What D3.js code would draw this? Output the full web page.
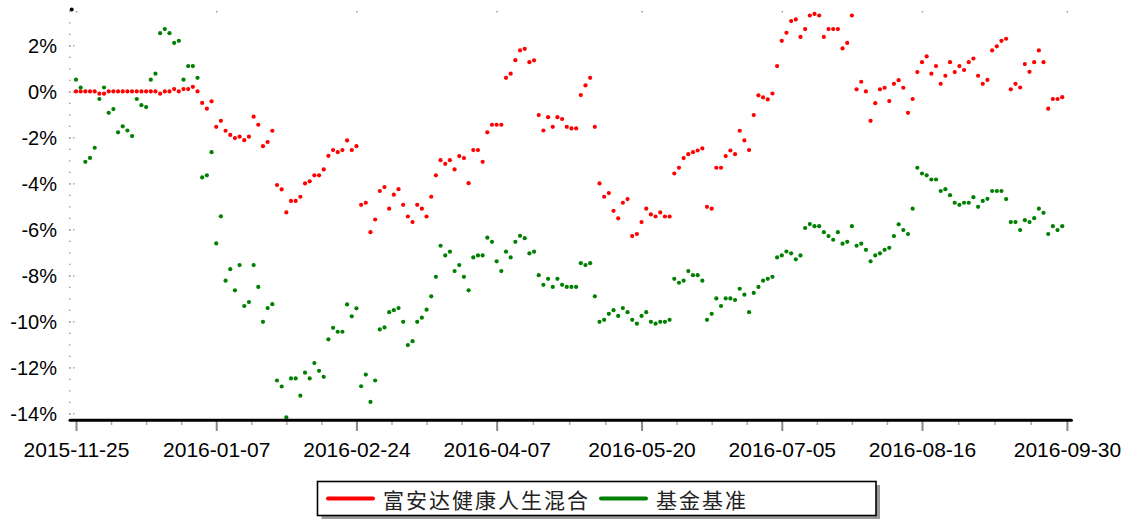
<!DOCTYPE html>
<html>
<head>
<meta charset="utf-8">
<script src="https://cdn.jsdelivr.net/npm/d3@7"></script>
<style>
  body { margin: 0; background: #fff; }
  svg { display: block; }
</style>
</head>
<body>
<script>
// series names
var seriesNames = ["富安达健康人生混合", "基金基准"];

// x tick labels and the point index each one sits on
var tickLabels = ["2015-11-25", "2016-01-07", "2016-02-24", "2016-04-07", "2016-05-20", "2016-07-05", "2016-08-16", "2016-09-30"];
var tickIndex = [0, 30, 60, 90, 121, 151, 181, 212];

// y tick values (%)
var yTicks = [-14, -12, -10, -8, -6, -4, -2, 0, 2];

// fund return, %, one value per trading day
var fund = [
  0, 0, 0, 0, 0, -0.1, -0.1, 0, 0, 0,
  0, 0, 0, 0, 0, 0, 0, 0, -0.1, 0,
  0, 0.1, 0, 0.1, 0.1, 0.2, 0, -0.5, -0.75, -0.43,
  -1.54, -1.28, -1.71, -1.89, -2.03, -1.97, -2.12, -1.97, -1.10, -1.45,
  -2.38, -2.20, -1.71, -4.07, -4.26, -5.26, -4.76, -4.76, -4.58, -4.0,
  -3.91, -3.65, -3.65, -3.39, -2.80, -2.55, -2.64, -2.55, -2.13, -2.55,
  -2.38, -4.93, -4.84, -6.12, -5.57, -4.33, -4.16, -5.10, -4.49, -4.25,
  -4.93, -5.44, -5.68, -4.93, -5.10, -5.44, -4.58, -3.65, -2.99, -3.15,
  -2.99, -3.39, -2.81, -2.90, -3.99, -2.55, -2.55, -3.06, -1.78, -1.45,
  -1.45, -1.45, 0.59, 0.77, 1.36, 1.78, 1.85, 1.27, 1.35, -1.03,
  -1.70, -1.12, -1.54, -1.12, -1.20, -1.54, -1.61, -1.61, -0.16, 0.26,
  0.59, -1.54, -4.0, -4.58, -4.42, -5.19, -5.52, -4.84, -4.68, -6.29,
  -6.20, -5.68, -5.10, -5.35, -5.44, -5.26, -5.44, -5.44, -3.57, -3.32,
  -2.90, -2.73, -2.64, -2.57, -2.48, -5.02, -5.10, -3.32, -3.32, -2.81,
  -2.57, -2.73, -1.71, -2.13, -2.55, -1.03, -0.17, -0.26, -0.35, -0.09,
  1.10, 2.20, 2.55, 3.06, 3.13, 2.37, 2.71, 3.30, 3.37, 3.30,
  2.37, 2.71, 2.71, 2.71, 1.87, 2.11, 3.30, 0.09, 0.42, 0,
  -1.28, -0.51, 0.09, 0.16, -0.42, 0.33, 0.49, 0.16, -0.93, -0.33,
  0.84, 1.27, 1.52, 0.77, 1.10, 0.33, 0.68, 1.27, 0.84, 1.10,
  0.93, 1.27, 1.43, 0.68, 0.33, 0.50, 1.78, 1.96, 2.20, 2.29,
  0.09, 0.33, 0.17, 1.19, 0.85, 1.27, 1.78, 1.27, -0.75, -0.33,
  -0.33, -0.25
];

// benchmark return, %
var bench = [
  0.51, 0.17, -3.06, -2.89, -2.45, -0.33, 0.17, -0.93, -0.77, -1.78,
  -1.52, -1.70, -1.94, -0.33, -0.60, -0.68, 0.51, 0.77, 2.53, 2.71,
  2.53, 2.11, 2.20, 0.51, 1.10, 1.10, 0.59, -3.74, -3.65, -2.64,
  -6.61, -5.43, -8.23, -7.73, -8.65, -7.55, -9.33, -9.16, -7.55, -8.50,
  -10.02, -9.42, -9.25, -12.57, -12.83, -14.17, -12.48, -12.48, -13.23, -12.23,
  -12.48, -11.81, -12.15, -12.41, -10.78, -10.28, -10.45, -10.45, -9.26, -9.78,
  -9.43, -12.82, -12.31, -13.50, -12.57, -10.35, -10.26, -9.60, -9.51, -9.42,
  -10.02, -11.03, -10.86, -10.02, -9.84, -9.49, -8.91, -8.06, -6.71, -7.13,
  -6.97, -7.81, -7.55, -8.06, -8.65, -7.22, -7.13, -7.13, -6.36, -6.54,
  -7.39, -7.81, -6.97, -7.22, -6.54, -6.28, -6.38, -7.04, -6.97, -7.99,
  -8.41, -8.15, -8.50, -8.15, -8.41, -8.50, -8.50, -8.50, -7.47, -7.55,
  -7.47, -8.91, -10.02, -9.93, -9.67, -9.51, -9.76, -9.42, -9.60, -9.93,
  -10.10, -9.76, -9.60, -10.02, -10.10, -10.02, -10.02, -9.93, -8.15, -8.32,
  -8.23, -7.81, -7.99, -7.99, -8.23, -9.93, -9.67, -9.00, -9.33, -9.00,
  -9.00, -9.07, -8.58, -8.84, -9.60, -8.76, -8.50, -8.23, -8.15, -8.06,
  -7.22, -7.13, -6.96, -7.04, -7.30, -7.13, -5.94, -5.77, -5.86, -5.86,
  -6.12, -6.29, -6.45, -6.12, -6.62, -6.54, -5.86, -6.71, -6.62, -6.89,
  -7.39, -7.13, -7.04, -6.89, -6.80, -6.29, -5.78, -6.03, -6.20, -5.10,
  -3.32, -3.57, -3.65, -3.83, -3.83, -4.33, -4.25, -4.51, -4.84, -4.93,
  -4.84, -4.84, -4.60, -5.02, -4.76, -4.67, -4.33, -4.33, -4.33, -4.68,
  -5.68, -5.68, -6.03, -5.60, -5.68, -5.51, -5.10, -5.28, -6.20, -5.86,
  -6.03, -5.86
];

var colors = ["#ff0000", "#008000"];

var width = 1127, height = 519;
var svg = d3.select("body").append("svg")
  .attr("width", width).attr("height", height)
  .style("background", "#fff");

var x = d3.scaleLinear().domain([0, 212]).range([76, 1066.9]);
var y = d3.scaleLinear().domain([-14.3, 3.57]).range([420.3, 9.3]);

// minor y ticks (dots)
var yMinor = d3.range(-14, 3.51, 0.5);
svg.append("g")
  .attr("transform", "translate(69,0)")
  .call(d3.axisRight(y).tickValues(yMinor).tickSize(1.5).tickFormat(""))
  .call(function(g){
    g.select(".domain").remove();
    g.selectAll("line").attr("stroke", "#999").attr("stroke-width", 1.3);
  });

// major y ticks (dotted) and labels
svg.append("g")
  .attr("transform", "translate(69,0)")
  .call(d3.axisRight(y).tickValues(yTicks).tickSize(6).tickFormat(""))
  .call(function(g){
    g.select(".domain").remove();
    g.selectAll("line").attr("stroke", "#999").attr("stroke-width", 1.3)
      .attr("stroke-dasharray", "1.5,2.5");
  });

svg.append("g")
  .attr("transform", "translate(57,0)")
  .call(d3.axisLeft(y).tickValues(yTicks).tickSize(0).tickPadding(0)
    .tickFormat(function(d){ return d + "%"; }))
  .call(function(g){
    g.select(".domain").remove();
    g.selectAll("text")
      .attr("x", 0).attr("dy", "0.36em")
      .attr("fill", "#000")
      .style("font-family", "'Liberation Sans', Arial, sans-serif")
      .style("font-size", "20px");
  });

// top small marks
svg.append("g")
  .attr("transform", "translate(0,12.5)")
  .call(d3.axisTop(x).tickValues(tickIndex).tickSize(1.5).tickFormat(""))
  .call(function(g){
    g.select(".domain").remove();
    g.selectAll("line").attr("stroke", "#999").attr("stroke-width", 1.5);
  });

svg.append("circle").attr("cx", 71.7).attr("cy", 9.5).attr("r", 2).attr("fill", "#000");

// points
svg.append("g").selectAll("circle")
  .data(fund)
  .enter().append("circle")
  .attr("cx", function(d, i){ return x(i); })
  .attr("cy", function(d){ return y(d); })
  .attr("r", 2.1)
  .attr("fill", colors[0]);

svg.append("g").selectAll("circle")
  .data(bench)
  .enter().append("circle")
  .attr("cx", function(d, i){ return x(i); })
  .attr("cy", function(d){ return y(d); })
  .attr("r", 2.1)
  .attr("fill", colors[1]);

// x axis: minor ticks
var xMinor = [];
for (var k = 0; k < tickIndex.length - 1; k++) {
  for (var q = 1; q < 4; q++) {
    xMinor.push(tickIndex[k] + (tickIndex[k + 1] - tickIndex[k]) * q / 4);
  }
}
svg.append("g")
  .attr("transform", "translate(0,421)")
  .call(d3.axisBottom(x).tickValues(xMinor).tickSize(4).tickFormat(""))
  .call(function(g){
    g.select(".domain").remove();
    g.selectAll("line").attr("stroke", "#aaa").attr("stroke-width", 1.5);
  });

svg.append("g")
  .attr("transform", "translate(0,421)")
  .call(d3.axisBottom(x).tickValues(tickIndex).tickSize(10)
    .tickFormat(function(d, i){ return tickLabels[i]; }))
  .call(function(g){
    g.select(".domain").remove();
    g.selectAll("line").attr("stroke", "#888").attr("stroke-width", 2);
    g.selectAll("text")
      .attr("y", 35.5).attr("dy", 0)
      .attr("fill", "#000")
      .style("font-family", "'Liberation Sans', Arial, sans-serif")
      .style("font-size", "21px");
  });

svg.append("line")
  .attr("x1", x(0) - 6).attr("x2", x(212) + 4.5)
  .attr("y1", 420.3).attr("y2", 420.3)
  .attr("stroke", "#000").attr("stroke-width", 3)
  .attr("stroke-linecap", "round");

// legend
var lg = svg.append("g");
lg.append("rect")
  .attr("x", 321.5).attr("y", 485).attr("width", 558.5).attr("height", 34)
  .attr("fill", "#999");
lg.append("rect")
  .attr("x", 317.5).attr("y", 481.5).attr("width", 558.5).attr("height", 34)
  .attr("fill", "#fff").attr("stroke", "#000").attr("stroke-width", 1.6);

var legendItems = [
  { lx: 328, tx: 383 },
  { lx: 601, tx: 656 }
];
legendItems.forEach(function(it, i){
  lg.append("line")
    .attr("x1", it.lx).attr("x2", it.lx + 45)
    .attr("y1", 498.5).attr("y2", 498.5)
    .attr("stroke", colors[i]).attr("stroke-width", 4)
    .attr("stroke-linecap", "round");
  lg.append("text")
    .attr("x", it.tx).attr("y", 498.5)
    .attr("dominant-baseline", "central")
    .attr("fill", "#222")
    .style("font-family", "'Noto Sans CJK SC', sans-serif")
    .style("font-size", "21px")
    .style("letter-spacing", "2px")
    .text(seriesNames[i]);
});
</script>
</body>
</html>
